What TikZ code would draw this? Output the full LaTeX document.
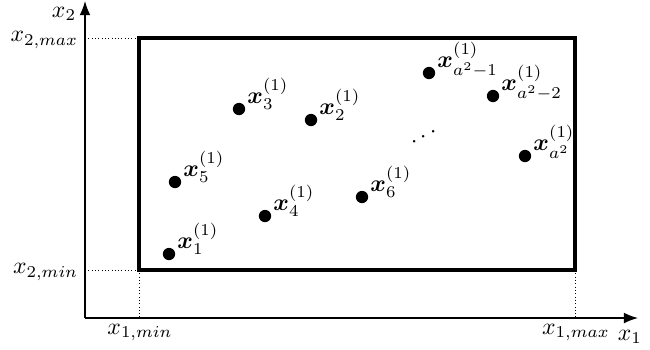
\documentclass[tikz,border=0pt]{standalone}
\usepackage{amsmath,bm}
\usetikzlibrary{arrows.meta}
\begin{document}
\begin{tikzpicture}[x=0.422pt,y=-0.422pt,
  axis/.style={line width=0.6pt,-{Latex[length=6pt,width=4.6pt]}},
  guide/.style={densely dotted,thin},
  pt/.style={circle,fill=black,inner sep=0pt,minimum size=5.2pt},
  lab/.style={anchor=base west,inner sep=0pt}]
\useasboundingbox (0,0) rectangle (650,349);
% axes
\coordinate (O) at (85,318);
\coordinate (Ytip) at (85,1);
\coordinate (Xtip) at (638,318);
\draw[axis] (O) -- (Ytip);
\draw[axis] (O) -- (Xtip);
% box
\coordinate (BL) at (139,270);
\coordinate (TR) at (575,38);
\coordinate (TL) at (139,38);
\coordinate (BR) at (575,270);
\coordinate (YL1) at (85,38);
\coordinate (YL2) at (85,270);
\coordinate (XL1) at (139,318);
\coordinate (XL2) at (575,318);
\draw[guide] (YL1) -- (TL);
\draw[guide] (YL2) -- (BL);
\draw[guide] (BL) -- (XL1);
\draw[guide] (BR) -- (XL2);
\draw[line width=1.3pt] (BL) rectangle (TR);
% axis labels
\node[anchor=east,inner sep=1pt] (lx2) at (79,14) {$x_2$};
\node[anchor=east,inner sep=1pt] (lx2max) at (81,40) {$x_{2,max}$};
\node[anchor=east,inner sep=1pt] (lx2min) at (81,272) {$x_{2,min}$};
\node[anchor=north,inner sep=1pt] (lx1min) at (140,321) {$x_{1,min}$};
\node[anchor=north,inner sep=1pt] (lx1max) at (576,321) {$x_{1,max}$};
\node[anchor=north west,inner sep=1pt] (lx1) at (615,327) {$x_1$};
% points
\node[pt] (p1) at (169,254) {};
\node[pt] (p5) at (175,182) {};
\node[pt] (p3) at (239,109) {};
\node[pt] (p2) at (311,120) {};
\node[pt] (p4) at (265,216) {};
\node[pt] (p6) at (362,197) {};
\node[pt] (pa1) at (429,73) {};
\node[pt] (pa2) at (493,96) {};
\node[pt] (pa) at (525,156) {};
\node[lab] (l1) at ([shift={(8,-6)}]p1) {$\bm{x}_1^{(1)}$};
\node[lab] (l5) at ([shift={(8,-6)}]p5) {$\bm{x}_5^{(1)}$};
\node[lab] (l3) at ([shift={(8,-6)}]p3) {$\bm{x}_3^{(1)}$};
\node[lab] (l2) at ([shift={(8,-6)}]p2) {$\bm{x}_2^{(1)}$};
\node[lab] (l4) at ([shift={(8,-6)}]p4) {$\bm{x}_4^{(1)}$};
\node[lab] (l6) at ([shift={(8,-6)}]p6) {$\bm{x}_6^{(1)}$};
\node[lab] (la1) at ([shift={(8,-6)}]pa1) {$\bm{x}_{a^2-1}^{(1)}$};
\node[lab] (la2) at ([shift={(8,-6)}]pa2) {$\bm{x}_{a^2-2}^{(1)}$};
\node[lab] (la) at ([shift={(8,-6)}]pa) {$\bm{x}_{a^2}^{(1)}$};
\node[rotate=28,inner sep=0pt] (dots) at (426,136) {$\cdots$};
\end{tikzpicture}
\end{document}
